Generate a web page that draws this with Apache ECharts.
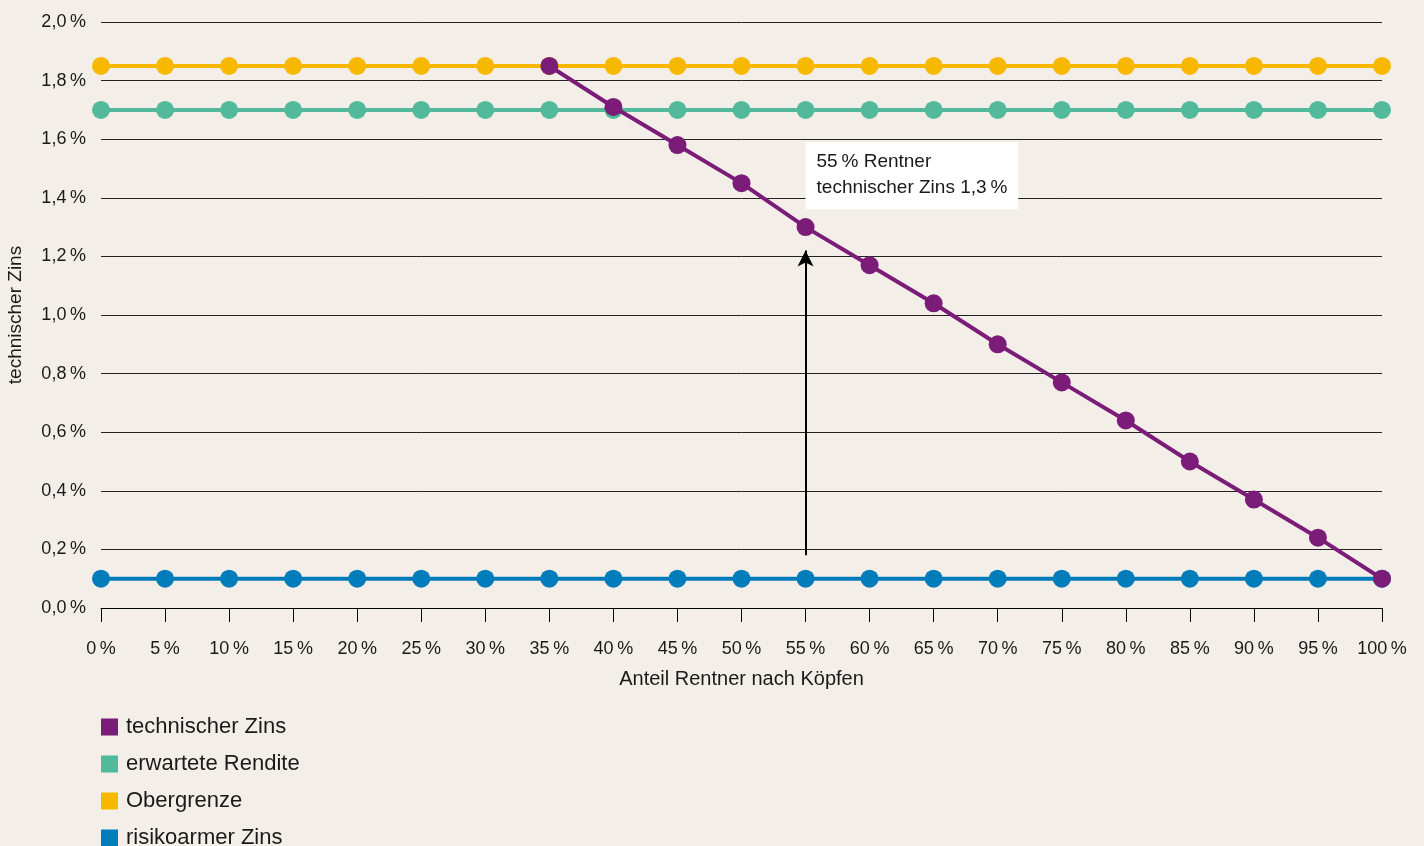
<!DOCTYPE html>
<html><head><meta charset="utf-8">
<script src="https://cdn.jsdelivr.net/npm/echarts@6/dist/echarts.min.js"></script>
<style>html,body{margin:0;padding:0;background:#f3efe8;}#c{width:1424px;height:846px;}</style>
</head><body><div id="c"></div>
<script>
const categories = ['0%','5%','10%','15%','20%','25%','30%','35%','40%','45%','50%','55%','60%','65%','70%','75%','80%','85%','90%','95%','100%'];
const technischerZins = [null,null,null,null,null,null,null,1.85,1.71,1.58,1.45,1.30,1.17,1.04,0.90,0.77,0.64,0.50,0.37,0.24,0.10];
const erwarteteRendite = [1.7,1.7,1.7,1.7,1.7,1.7,1.7,1.7,1.7,1.7,1.7,1.7,1.7,1.7,1.7,1.7,1.7,1.7,1.7,1.7,1.7];
const obergrenze = [1.85,1.85,1.85,1.85,1.85,1.85,1.85,1.85,1.85,1.85,1.85,1.85,1.85,1.85,1.85,1.85,1.85,1.85,1.85,1.85,1.85];
const risikoarmerZins = [0.1,0.1,0.1,0.1,0.1,0.1,0.1,0.1,0.1,0.1,0.1,0.1,0.1,0.1,0.1,0.1,0.1,0.1,0.1,0.1,0.1];
const annotationText = ['55\u2009% Rentner','technischer Zins 1,3\u2009%'];

const FONT = '"Liberation Sans", Arial, sans-serif';
const chart = echarts.init(document.getElementById('c'));
function line(name, data, color, z){
  return {name, type:'line', data, z, symbol:'circle', symbolSize:18, showSymbol:true,
    itemStyle:{color}, lineStyle:{color, width:4}, connectNulls:false, animation:false};
}
const tz = line('technischer Zins', technischerZins, '#7a1c78', 5);
tz.markLine = {silent:true, animation:false, symbol:['none','arrow'], symbolSize:[12,16],
  lineStyle:{color:'#000', width:2, type:'solid'}, label:{show:false},
  data:[[{coord:['55%',0.18]},{coord:['55%',1.22]}]]};
tz.markPoint = {silent:true, animation:false, symbol:'rect', symbolSize:[0,0],
  data:[{coord:['55%',1.59], label:{show:true, position:'inside', align:'left', verticalAlign:'top',
    formatter: annotationText.join('\n'), backgroundColor:'#ffffff', padding:[7,11,8,11],
    color:'#1a1a1a', fontSize:19, lineHeight:26, fontFamily:FONT}}]};
chart.setOption({
  backgroundColor:'#f3efe8',
  textStyle:{fontFamily:FONT},
  grid:{left:101, right:42, top:22, bottom:238, outerBoundsMode:'none', containLabel:false},
  legend:{orient:'vertical', left:101, top:716, height:200, padding:0, itemGap:15, itemWidth:17, itemHeight:17,
    icon:'rect', textStyle:{fontSize:22, color:'#1a1a1a', fontFamily:FONT, padding:[0,0,0,3]},
    data:['technischer Zins','erwartete Rendite','Obergrenze','risikoarmer Zins']},
  xAxis:{type:'category', data:categories, boundaryGap:false,
    name:'Anteil Rentner nach Köpfen', nameLocation:'middle', nameGap:61,
    nameTextStyle:{fontSize:20, color:'#1a1a1a'},
    axisLine:{lineStyle:{color:'#000', width:1}},
    axisTick:{length:14, interval:0, lineStyle:{color:'#000'}},
    axisLabel:{fontSize:18, interval:0, color:'#1a1a1a', margin:32, formatter:v=>v.replace('%','\u2009%')},
    splitLine:{show:false}},
  yAxis:{type:'value', min:0, max:2, interval:0.2,
    name:'technischer Zins', nameLocation:'middle', nameGap:76, nameRotate:90,
    nameTextStyle:{fontSize:19, color:'#1a1a1a'},
    axisLine:{show:false}, axisTick:{show:false},
    axisLabel:{fontSize:18, color:'#1a1a1a', margin:15, formatter:v=>v.toFixed(1).replace('.',',')+'\u2009%'},
    splitLine:{lineStyle:{color:'#222', width:1}}},
  series:[
    line('erwartete Rendite', erwarteteRendite, '#52b99b', 3),
    line('Obergrenze', obergrenze, '#f8b800', 3),
    line('risikoarmer Zins', risikoarmerZins, '#007cba', 3),
    tz
  ]
});
</script></body></html>
